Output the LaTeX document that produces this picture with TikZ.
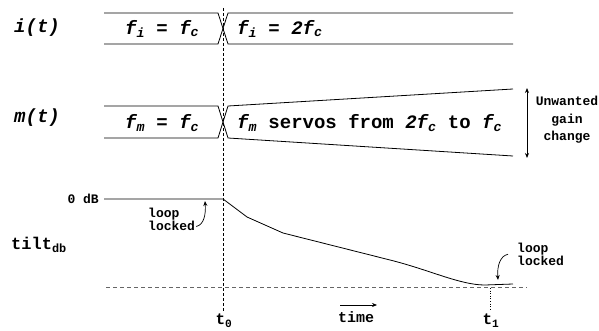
\documentclass[tikz,border=0pt]{standalone}
\usepackage{fontspec}
\setmainfont{Liberation Mono}
\setmonofont{Liberation Mono}
\usetikzlibrary{arrows.meta}
\newcommand\sbi[1]{\textsubscript{#1}}
\begin{document}
\begin{tikzpicture}[x=1pt,y=-1pt,
  bus/.style={line width=0.8pt},
  guide/.style={line width=0.7pt, dash pattern=on 3pt off 2pt},
  big/.style={font=\bfseries\fontsize{19}{20}\selectfont, inner sep=0pt},
  small/.style={font=\bfseries\fontsize{13}{12.5}\selectfont, inner sep=0pt, align=left},
  arr/.style={-{Stealth[length=5pt,width=4pt]}, line width=0.7pt}]
\useasboundingbox (0,0) rectangle (599,331);
% signal labels
\node[big, anchor=west] (il) at (14,28) {\itshape i(t)};
\node[big, anchor=west] (ml) at (14,118) {\itshape m(t)};
\node[big, anchor=west, font=\bfseries\fontsize{17}{18}\selectfont] (tl) at (11,245) {tilt\sbi{db}};
% i(t) bus
\draw[bus] (104,13) -- (218,13) -- (228,44) -- (513,44);
\draw[bus] (104,44) -- (218,44) -- (228,13) -- (513,13);
\node[big, anchor=west] (i1) at (125,29) {\itshape f\sbi{i} = f\sbi{c}};
\node[big, anchor=west] (i2) at (237,29) {\itshape f\sbi{i} = 2f\sbi{c}};
% m(t) bus
\draw[bus] (104,106) -- (218,106) -- (228,138) -- (513,156);
\draw[bus] (104,138) -- (218,138) -- (228,106) -- (513,89);
\node[big, anchor=west] (m1) at (125,123) {\itshape f\sbi{m} = f\sbi{c}};
\node[big, anchor=west] (m2) at (237,123) {\textit{f\sbi{m}} servos from \textit{2f\sbi{c}} to \textit{f\sbi{c}}};
% gain change
\coordinate (gt) at (527,88);
\coordinate (gb) at (527,158);
\draw[{Stealth[length=5pt,width=4pt]}-{Stealth[length=5pt,width=4pt]}, line width=0.8pt] (gt) -- (gb);
\node[small, align=center, font=\bfseries\fontsize{13}{17.5}\selectfont] (gc) at (567,120) {Unwanted\\gain\\change};
% guides
\draw[guide] (223,8) -- (223,312);
\draw[line width=0.7pt, gray!80!black, dash pattern=on 4pt off 3pt] (106,287) -- (527,287);
\draw[line width=0.6pt, dotted] (490,288) -- (490,311);
% tilt curve
\node[small, anchor=east] (zd) at (99,199) {0 dB};
\draw[bus] (104,199) -- (223,199) -- (247,217) -- (283,233) -- (390,260)
  .. controls (430,270) and (460,285) .. (485,285) -- (513,284);
% loop locked labels
\node[small, anchor=north west] (ll1) at (148,208) {loop\\locked};
\coordinate (la) at (205,201);
\draw[arr] (ll1.south east) ++(1,-4) .. controls (204,225) and (206,214) .. (la);
\node[small, anchor=north west] (ll2) at (517,243) {loop\\locked};
\coordinate (lb) at (498,280);
\draw[arr] (ll2.west) ++(-9,0) .. controls (500,256) and (497,266) .. (lb);
% time axis
\node[big, anchor=north, font=\bfseries\fontsize{15}{16}\selectfont] (tm) at (356,311) {time};
\coordinate (ta) at (340,305);
\coordinate (tb) at (377,305);
\draw[arr] (ta) -- (tb);
\node[big, anchor=north, font=\bfseries\fontsize{16}{18}\selectfont] (t0) at (224,314) {t\sbi{0}};
\node[big, anchor=north, font=\bfseries\fontsize{16}{18}\selectfont] (t1) at (491,314) {t\sbi{1}};
\end{tikzpicture}
\end{document}
